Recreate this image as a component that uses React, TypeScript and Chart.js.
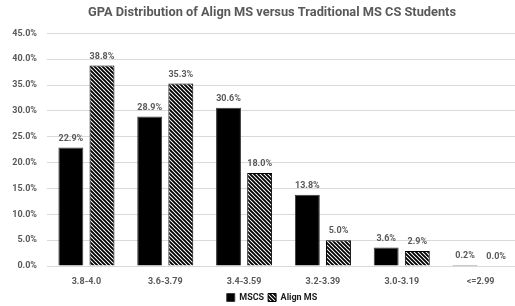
import React, { useEffect, useRef } from "react";
import { Chart, registerables } from "chart.js";

Chart.register(...registerables);

const titleText = "GPA Distribution of Align MS versus Traditional MS CS Students";
const categories = ["3.8-4.0", "3.6-3.79", "3.4-3.59", "3.2-3.39", "3.0-3.19", "<=2.99"];
const seriesNames = ["MSCS", "Align MS"];
const mscsValues = [22.9, 28.9, 30.6, 13.8, 3.6, 0.2];
const alignValues = [38.8, 35.3, 18.0, 5.0, 2.9, 0.0];
const yMin = 0;
const yMax = 45;
const yStep = 5;

const FONT = "Roboto";
const GRAY = "#595959";
const CANVAS_W = 544;
const CANVAS_H = 306;

function makeHatch(ctx: CanvasRenderingContext2D): CanvasPattern | string {
  const s = 4;
  const c = document.createElement("canvas");
  c.width = s;
  c.height = s;
  const g = c.getContext("2d");
  if (!g) return "#888";
  g.fillStyle = "#ffffff";
  g.fillRect(0, 0, s, s);
  g.strokeStyle = "#000000";
  g.lineWidth = 1.9;
  g.beginPath();
  g.moveTo(-1, -1);
  g.lineTo(s + 1, s + 1);
  g.moveTo(-1, s - 1);
  g.lineTo(1, s + 1);
  g.moveTo(s - 1, -1);
  g.lineTo(s + 1, 1);
  g.stroke();
  return ctx.createPattern(c, "repeat") || "#888";
}

const valueLabels = {
  id: "valueLabels",
  afterDatasetsDraw(chart: any) {
    const ctx = chart.ctx as CanvasRenderingContext2D;
    ctx.save();
    ctx.font = `bold 9px ${FONT}`;
    ctx.fillStyle = GRAY;
    ctx.textAlign = "center";
    ctx.textBaseline = "middle";
    chart.data.datasets.forEach((ds: any, i: number) => {
      const meta = chart.getDatasetMeta(i);
      meta.data.forEach((el: any, j: number) => {
        const v = ds.data[j] as number;
        ctx.fillText(v.toFixed(1) + "%", el.x, el.y - 9);
      });
    });
    ctx.restore();
  },
};

export default function App() {
  const ref = useRef<HTMLCanvasElement | null>(null);

  useEffect(() => {
    document.body.style.margin = "0";
    document.body.style.overflow = "hidden";
    const canvas = ref.current;
    if (!canvas) return;
    const ctx = canvas.getContext("2d");
    if (!ctx) return;
    const hatch = makeHatch(ctx);

    const chart = new Chart(ctx, {
      type: "bar",
      data: {
        labels: categories,
        datasets: [
          {
            label: seriesNames[0],
            data: mscsValues,
            backgroundColor: "#000000",
            borderColor: "#3a3a3a",
            borderWidth: 1,
            categoryPercentage: 0.79,
            barPercentage: 0.8,
          },
          {
            label: seriesNames[1],
            data: alignValues,
            backgroundColor: hatch as any,
            borderColor: "#000000",
            borderWidth: 1,
            categoryPercentage: 0.79,
            barPercentage: 0.8,
          },
        ],
      },
      options: {
        responsive: false,
        animation: false,
        devicePixelRatio: 1,
        layout: { padding: { left: 0, right: 0, top: 0, bottom: -6 } },
        plugins: {
          title: {
            display: true,
            text: titleText,
            color: GRAY,
            font: { family: FONT, size: 12.8, weight: "bold" },
            padding: { top: 5, bottom: 13 },
          },
          legend: {
            display: true,
            position: "bottom",
            labels: {
              boxWidth: 8,
              boxHeight: 8,
              color: "#1a1a1a",
              padding: 4,
              font: { family: FONT, size: 9, weight: "bold" },
            },
          },
          tooltip: { enabled: false },
        },
        scales: {
          x: {
            grid: { display: false, drawTicks: false },
            border: { display: false },
            ticks: {
              color: GRAY,
              padding: 10,
              font: { family: FONT, size: 9, weight: "bold" },
            },
            afterFit: (scale: any) => {
              scale.height = 23;
            },
          },
          y: {
            min: yMin,
            max: yMax,
            grid: { color: "#d9d9d9", drawTicks: false, lineWidth: 1 },
            border: { display: false },
            ticks: {
              stepSize: yStep,
              color: GRAY,
              padding: 10,
              font: { family: FONT, size: 9, weight: "bold" },
              callback: (v: any) => Number(v).toFixed(1) + "%",
            },
            afterFit: (scale: any) => {
              scale.width = 47;
            },
          },
          yRight: {
            position: "right",
            min: yMin,
            max: yMax,
            grid: { display: false, drawTicks: false },
            border: { display: false },
            ticks: { display: false },
            afterFit: (scale: any) => {
              scale.width = 24;
            },
          },
        },
      },
      plugins: [valueLabels],
    });
    return () => chart.destroy();
  }, []);

  return (
    <div style={{ position: "fixed", left: 0, top: 0, width: CANVAS_W, height: CANVAS_H, background: "#fff" }}>
      <canvas ref={ref} width={CANVAS_W} height={CANVAS_H} style={{ width: CANVAS_W, height: CANVAS_H, display: "block" }} />
    </div>
  );
}
